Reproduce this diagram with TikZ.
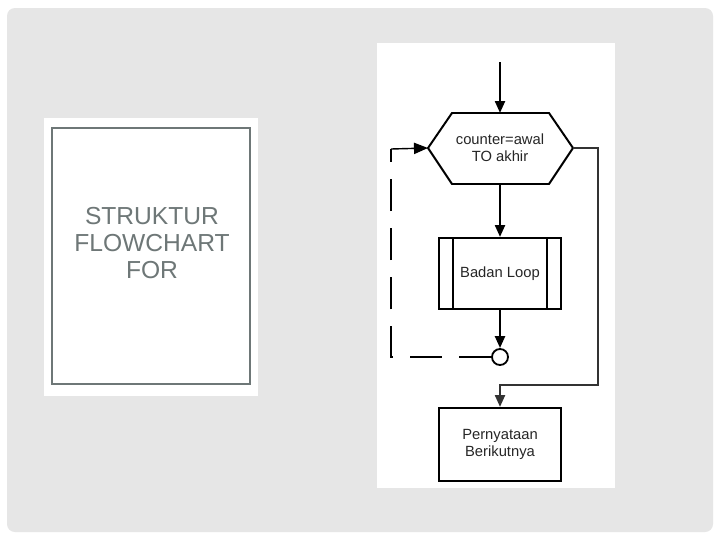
\documentclass[tikz,border=0pt]{standalone}
\usepackage{fontspec}
\setmainfont{Liberation Sans}
\usetikzlibrary{arrows.meta}

\definecolor{slidebg}{HTML}{E6E6E6}
\definecolor{framegray}{HTML}{6E7777}
\newlength\pxu
\setlength\pxu{0.025cm}

\tikzset{
  flowbox/.style={draw, line width=1.4pt, fill=white, minimum width=122\pxu,
    align=center, font=\fontsize{10.5}{12}\selectfont, text=black!85},
  flowline/.style={line width=1.8pt, -{Triangle[length=8.5pt,width=7pt]}},
  loopback/.style={line width=1pt, dash pattern=on 23pt off 12pt},
}

\begin{document}
\begin{tikzpicture}[x=\pxu, y=-\pxu]
\fill[white] (0,0) rectangle (720,540);
\useasboundingbox (0,0) rectangle (720,540);
\fill[slidebg, rounded corners=8\pxu] (7,8) rectangle (713,532);

% title panel
\fill[white] (44,118) rectangle (258,396);
\draw[framegray, line width=1.5pt] (52,128) rectangle (250,384);
\node[text=framegray, align=center, font=\fontsize{17.5}{19.5}\selectfont] (title) at (152,243) {STRUKTUR\\FLOWCHART\\FOR};

% flowchart panel
\fill[white] (377,43) rectangle (615,488);
\coordinate (start) at (500,62);
\coordinate (hexN) at (500,113);  \coordinate (hexS) at (500,184);
\coordinate (hexW) at (428,148);  \coordinate (hexE) at (573,148);
\draw[line width=1.4pt] (hexW) -- (452,113) -- (549,113) -- (hexE) -- (549,184) -- (452,184) -- cycle;
\node[align=center, font=\fontsize{10.5}{12}\selectfont, text=black!85] (cond) at (500,148) {counter=awal\\TO akhir};

\node[flowbox, minimum height=71\pxu] (body) at (500,273.5) {Badan Loop};
\draw[line width=1pt] ([xshift=15\pxu]body.north west) -- ([xshift=15\pxu]body.south west);
\draw[line width=1pt] ([xshift=-15\pxu]body.north east) -- ([xshift=-15\pxu]body.south east);

\node[draw, circle, line width=1.3pt, minimum size=16\pxu, inner sep=0pt, fill=white] (join) at (500,357) {};
\node[flowbox, minimum height=73\pxu] (next) at (500,444.5) {Pernyataan\\Berikutnya};

\draw[flowline] (start) -- (hexN);
\draw[flowline] (hexS) -- (body);
\draw[flowline] (body) -- (join);

% back to the loop head
\coordinate (loopin) at (391,149);
\draw[loopback] (join.west) -| (loopin);
\draw[line width=1pt, -{Triangle[length=10pt,width=8pt]}] (loopin) -- (hexW);

% loop exit
\coordinate (exitcorner) at (598,385);
\draw[flowline, black!80] (hexE) -| (exitcorner) -| (next.north);
\end{tikzpicture}
\end{document}
